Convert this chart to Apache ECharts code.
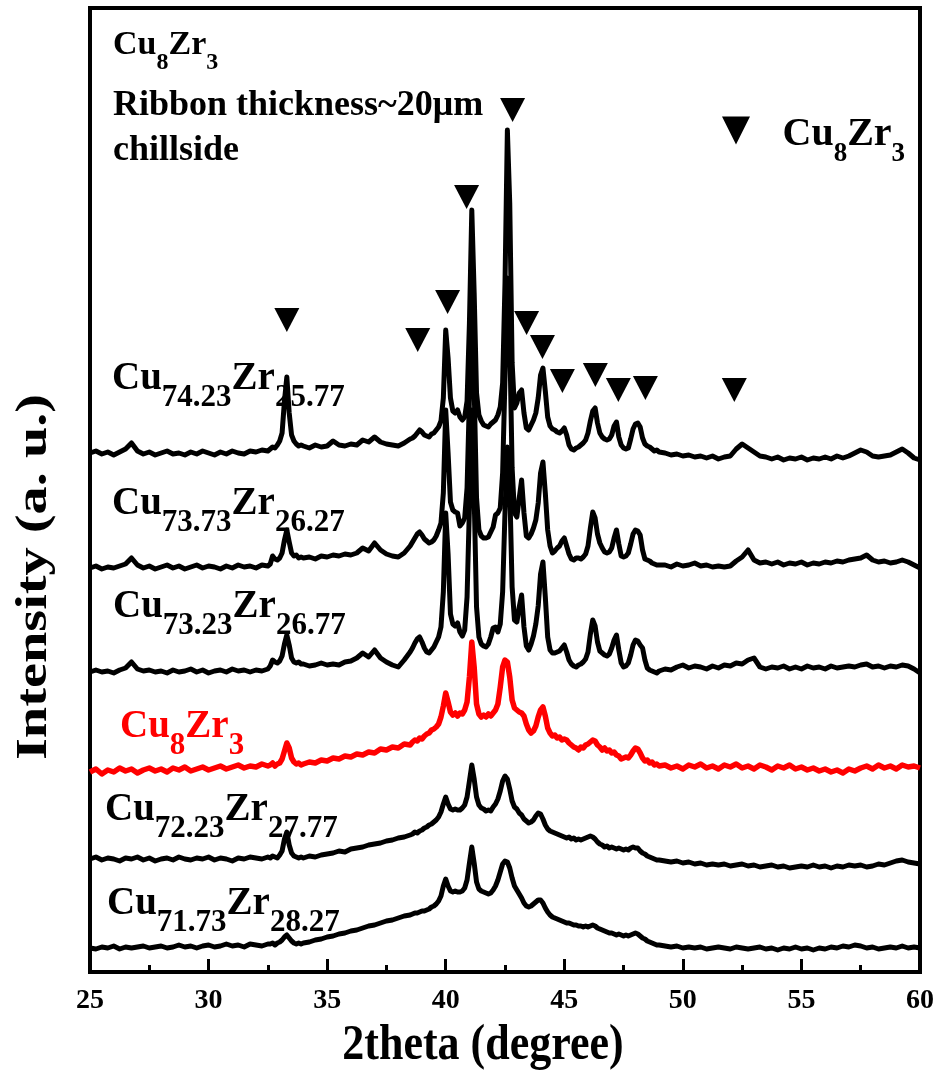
<!DOCTYPE html>
<html>
<head>
<meta charset="utf-8">
<script src="https://cdn.jsdelivr.net/npm/echarts@6/dist/echarts.min.js"></script>
<style>
  html, body { margin: 0; padding: 0; background: #fff; }
  #chart { width: 937px; height: 1081px; }
</style>
</head>
<body>
<div id="chart"></div>
<script>
// XRD scans of Cu-Zr ribbons (chill side), stacked with vertical offsets.

// Scan program: [start 2θ, end 2θ, step]
const scanSegments = [
  [25.0, 32.5, 0.25],
  [32.6, 33.9, 0.1],
  [34.0, 38.5, 0.25],
  [38.6, 49.0, 0.1],
  [49.25, 60.0, 0.25]
];

const xTicks = [25, 30, 35, 40, 45, 50, 55, 60];

// Sample compositions (Cu subscript, Zr subscript), top to bottom
const compositions = [
  ['74.23', '25.77'],
  ['73.73', '26.27'],
  ['73.23', '26.77'],
  ['8', '3'],
  ['72.23', '27.77'],
  ['71.73', '28.27']
];
const traceColors = ['#000', '#000', '#000', '#f00', '#000', '#000'];
// vertical stacking offset of each scan (a.u.)
const traceOffsets = [519, 404, 300, 200, 113, 24];

// Intensities (a.u.) on the scan grid, one array per sample
const intCu7423 = [
  0,2,-1,1,-2,1,4,10,2,-1, 1,-2,0,2,-1,0,-2,1,-1,2, 0,-2,1,-1,2,0,-1,2,1,3, 2,
  4,6,5,8,12,20,52,76,40,18,12,9,7,8,
  7,5,8,6,7,12,8,7,9,8,13,11,16,11,9,8,7,10,14,
  15,17,20,23,21,18,17,16,19,20, 23,26,32,55,123,95,55,42,40,43,
  36,33,36,52,130,243,160,60,38,32, 28,27,26,29,31,33,38,46,70,170,
  323,250,90,45,50,60,63,40,25,23, 28,33,40,55,78,85,62,36,27,24,
  23,21,20,22,25,18,8,4,3,5, 6,8,10,13,20,32,42,45,30,20,
  16,14,13,14,18,27,31,16,8,5, 4,5,14,24,29,30,26,15,9,7, 6,4,2,3,1,
  0,-2,-1,-3,-2,-4,-3,-5,-3,-6,-4, -3,4,9,5,1,-3,-4,-6,-4,-7,-5,
  -6,-4,-7,-5,-6,-4,-6,-3,-5,-3,0, 3,1,-3,-4,-3,-2,1,4,0,-5,-7
];
const intCu7373 = [
  0,2,-1,1,0,2,4,10,3,0, 2,-1,1,3,0,2,-1,1,3,0, 2,1,-1,2,0,3,1,2,0,3, 2,
  4,12,9,8,10,15,28,38,26,15,12,13,10,11,
  10,11,9,12,11,13,12,14,13,15,20,17,25,18,14,12,11,15,22,
  26,30,34,36,33,29,27,25,26,28, 32,38,45,75,158,115,66,58,56,55,
  42,45,50,80,170,268,180,70,38,32, 30,30,31,36,41,53,55,60,95,190,
  290,230,100,55,51,70,88,55,32,30, 34,40,48,65,95,106,75,38,22,15,
  17,20,22,27,30,22,14,9,8,10, 10,9,11,14,22,40,56,50,34,25,
  20,16,15,16,20,30,38,24,12,11, 12,15,24,34,38,37,33,18,9,8, 7,5,4,3,3,
  3,1,4,2,3,5,2,3,1,2,1, 2,7,11,18,8,5,6,4,6,3,5,
  4,6,3,5,4,6,5,7,6,8,9, 10,13,8,6,7,5,6,8,6,3,0
];
const intCu7323 = [
  0,2,0,1,-1,2,4,10,3,1, 2,0,1,-1,2,0,1,3,0,2, -1,1,2,0,3,1,2,0,2,1, 3,
  6,12,10,9,11,16,28,37,27,14,10,9,10,8,
  8,6,7,9,7,8,7,10,11,14,19,15,22,14,10,7,5,12,20,
  24,29,33,35,30,24,20,19,22,25, 30,35,45,80,159,118,58,48,46,49,
  40,36,42,75,165,262,175,65,35,28, 26,25,28,35,44,45,40,48,80,160,
  225,185,85,52,50,65,77,45,26,22, 28,36,48,66,98,110,75,35,22,19,
  19,20,21,24,27,20,12,8,6,5, 7,8,10,13,20,38,52,46,30,21,
  19,17,16,18,24,32,37,22,9,5, 6,9,17,27,32,31,27,24,12,4, 2,1,0,-1,1,
  3,2,5,7,4,6,5,3,6,4,7, 6,9,8,12,14,5,3,5,4,6,3,
  5,3,6,4,5,3,6,4,5,6,5, 7,8,5,6,4,6,5,7,6,3,-1
];
const intCu8Zr3 = [
  0,3,-2,2,0,4,1,3,-1,2, 4,1,3,0,4,2,5,1,3,5, 2,4,6,3,5,7,4,6,5,8, 6,
  7,9,6,8,9,13,21,29,24,14,10,8,9,7,
  8,10,9,12,11,14,13,16,15,18,17,20,19,23,22,25,24,28,27,
  30,32,31,34,33,36,38,39,42,43, 45,48,55,66,79,70,60,57,59,56,
  59,58,62,70,95,130,105,68,58,55, 57,55,58,56,59,62,68,85,105,112,
  110,95,72,64,62,60,59,56,48,42, 39,41,46,55,62,65,56,44,39,36,
  37,34,35,32,33,32,29,27,25,24, 22,25,24,27,28,30,32,31,27,25,
  22,24,21,22,19,20,17,16,13,14, 15,14,17,21,24,23,19,14,11,12, 9,10,7,8,6,
  7,4,6,3,7,5,8,4,6,3,7, 5,8,4,6,3,7,5,2,6,4,7,
  3,5,2,4,1,3,0,2,-1,3,1, 4,6,3,7,4,6,3,7,5,6,4
];
const intCu7223 = [
  0,2,-1,1,0,-2,1,0,2,-1, 1,-2,0,1,-1,2,0,-1,1,0, 2,-1,1,0,-2,1,0,2,1,0, 2,
  1,3,2,1,4,8,20,27,14,6,3,2,1,2,
  1,3,2,4,5,6,8,7,10,11,12,14,15,16,18,19,21,22,24,
  25,27,26,28,29,31,32,34,35,37, 39,42,47,55,62,55,50,49,50,49,
  49,51,54,62,78,94,80,62,54,51, 50,48,49,48,52,55,60,68,78,83,
  80,70,58,52,50,46,44,40,38,36, 37,39,43,46,45,40,34,30,28,27,
  26,25,24,23,22,21,22,20,21,19, 20,19,20,21,22,23,22,20,17,15,
  14,12,13,11,12,11,10,11,10,9, 10,9,11,12,11,11,8,6,5,3, 2,1,0,-1,-1,
  -2,-3,-2,-4,-3,-5,-4,-6,-5,-6,-5, -7,-6,-5,-7,-6,-8,-7,-6,-8,-7,-9,
  -8,-7,-8,-6,-8,-7,-9,-7,-8,-6,-7, -6,-8,-7,-5,-6,-4,-2,-1,-3,-4,-5
];
const intCu7173 = [
  0,-1,1,0,2,-1,1,0,1,2, 0,1,2,0,1,3,1,2,0,2, 3,1,2,4,2,3,1,4,3,2, 4,
  4,5,3,5,6,8,11,13,10,7,5,4,5,4,
  5,6,8,9,11,12,14,15,17,18,20,22,23,25,27,28,30,32,33,
  34,35,35,36,37,37,38,39,41,42, 44,47,52,62,69,62,57,56,57,56,
  56,57,60,68,85,101,85,66,59,57, 56,55,54,55,58,62,68,76,84,87,
  86,80,70,62,58,54,50,45,42,41, 42,44,46,48,48,45,40,36,33,31,
  30,29,28,27,26,25,25,24,23,23, 22,22,21,22,21,22,23,22,20,19,
  18,17,16,15,15,14,13,14,13,12, 13,12,13,14,15,14,12,10,9,7, 6,5,4,3,3,
  2,1,2,0,1,0,1,-1,0,1,0, -1,1,0,-1,0,1,-1,0,-2,0,-1,
  1,-1,0,-2,0,-1,1,0,2,1,3, 2,0,1,-1,0,1,0,2,0,1,0
];
const intensities = [intCu7423, intCu7373, intCu7323, intCu8Zr3, intCu7223, intCu7173];

// Cu8Zr3 reflection markers: 2θ and marker level (a.u.)
const peakMarkerTheta = [33.30, 38.82, 40.08, 40.88, 42.82, 43.41, 44.08, 44.92, 46.31, 47.28, 48.42, 52.17];
const peakMarkerLevel = [652, 632, 670, 775, 862, 649, 625, 591, 597, 582, 584, 582];

const FONT = '"Liberation Serif", "Times New Roman", serif';
const MARKER_NAME = 'Cu8Zr3 reflections';
const TRIANGLE = 'path://M0,0L10,0L5,10Z';

// expand the scan program into the list of measured 2θ positions
const twoTheta = [];
scanSegments.forEach(([a, b, step]) => {
  const n = Math.round((b - a) / step);
  for (let i = 0; i <= n; i++) twoTheta.push(+(a + i * step).toFixed(2));
});

intensities.forEach((arr, k) => {
  if (arr.length !== twoTheta.length) {
    console.error('scan ' + k + ' has ' + arr.length + ' points, grid has ' + twoTheta.length);
  }
});

const lineSeries = intensities.map((arr, k) => ({
  type: 'line',
  name: 'scan Cu' + compositions[k][0] + 'Zr' + compositions[k][1],
  data: twoTheta.map((t, i) => [t, traceOffsets[k] + arr[i]]),
  showSymbol: false,
  smooth: false,
  lineStyle: { color: traceColors[k], width: k === 3 ? 5.5 : 5, join: 'round' },
  itemStyle: { color: traceColors[k] },
  z: 2,
  silent: true
}));

const markerSeries = {
  type: 'scatter',
  name: MARKER_NAME,
  data: peakMarkerTheta.map((t, i) => [t, peakMarkerLevel[i]]),
  symbol: TRIANGLE,
  symbolSize: [25, 24],
  itemStyle: { color: '#000', opacity: 1 },
  z: 4,
  silent: true
};

// chemical formula with lowered subscripts: main text top-aligned,
// subscripts bottom-aligned in a taller line box
function formulaRich(F, f, subLine, color, key) {
  const c = {};
  c[key] = color;
  return {
    m: Object.assign({ fontSize: F, fontFamily: FONT, fontWeight: 'bold', lineHeight: F, verticalAlign: 'top' }, c),
    s: Object.assign({ fontSize: f, fontFamily: FONT, fontWeight: 'bold', lineHeight: subLine, verticalAlign: 'bottom' }, c)
  };
}
function formulaText(x, y, comp, F, f, subLine, color) {
  return {
    type: 'text', x: x, y: y, z: 10, silent: true,
    style: {
      text: '{m|Cu}{s|' + comp[0] + '}{m|Zr}{s|' + comp[1] + '}',
      align: 'left', verticalAlign: 'top',
      rich: formulaRich(F, f, subLine, color, 'fill')
    }
  };
}
function plainText(x, y, text, size, extra) {
  return Object.assign({
    type: 'text', x: x, y: y, z: 10, silent: true,
    style: {
      text: text, fill: '#000',
      font: 'bold ' + size + 'px ' + FONT,
      align: 'left', verticalAlign: 'top'
    }
  }, extra || {});
}

// sample label anchors (left x, main-text baseline y)
const labelAnchors = [[112, 392], [112, 517], [113, 620], [120, 740], [105, 823], [107, 917]];

const graphics = labelAnchors.map((p, k) =>
  formulaText(p[0], p[1] - 33, compositions[k], 39, 31, 54, traceColors[k]));

graphics.push(formulaText(113, 28, ['8', '3'], 34, 24, 47, '#000'));
graphics.push(plainText(113, 88, 'Ribbon thickness~20\u03bcm', 36));
graphics.push(plainText(113, 133, 'chillside', 36));
graphics.push({
  type: 'text', x: 483, y: 1046, scaleY: 1.15, z: 10, silent: true,
  style: { text: '2theta (degree)', fill: '#000', font: 'bold 44px ' + FONT, align: 'center', verticalAlign: 'middle' }
});
graphics.push({
  type: 'text', x: 35, y: 577, rotation: Math.PI / 2, scaleX: 1.28, z: 10, silent: true,
  style: { text: 'Intensity (a. u.)', fill: '#000', font: 'bold 44px ' + FONT, align: 'center', verticalAlign: 'middle' }
});

const chart = echarts.init(document.getElementById('chart'), null, { renderer: 'canvas' });
chart.setOption({
  animation: false,
  backgroundColor: '#fff',
  grid: {
    left: 90, right: 16, top: 8, bottom: 109,
    show: true, borderColor: '#000', borderWidth: 4, backgroundColor: 'transparent'
  },
  legend: {
    data: [{ name: MARKER_NAME, icon: TRIANGLE }],
    left: 722, top: 115, padding: 0,
    itemWidth: 29, itemHeight: 28,
    selectedMode: false,
    formatter: () => '{m|Cu}{s|8}{m|Zr}{s|3}',
    textStyle: {
      color: '#000', padding: [22, 0, 0, 27],
      rich: formulaRich(40, 27, 53, '#000', 'color')
    }
  },
  xAxis: {
    type: 'value', min: xTicks[0], max: xTicks[xTicks.length - 1], interval: 5,
    axisLine: { show: true, lineStyle: { color: '#000', width: 4 } },
    axisTick: { show: true, inside: true, length: 13, lineStyle: { color: '#000', width: 3 } },
    minorTick: { show: true, splitNumber: 2, length: 7, lineStyle: { color: '#000', width: 3 } },
    splitLine: { show: false },
    axisLabel: {
      color: '#000', fontSize: 28, fontWeight: 'bold', fontFamily: FONT, margin: 15,
      customValues: xTicks
    }
  },
  yAxis: {
    type: 'value', min: 0, max: 964, show: false, splitLine: { show: false }
  },
  series: lineSeries.concat([markerSeries]),
  graphic: graphics
});
</script>
</body>
</html>
